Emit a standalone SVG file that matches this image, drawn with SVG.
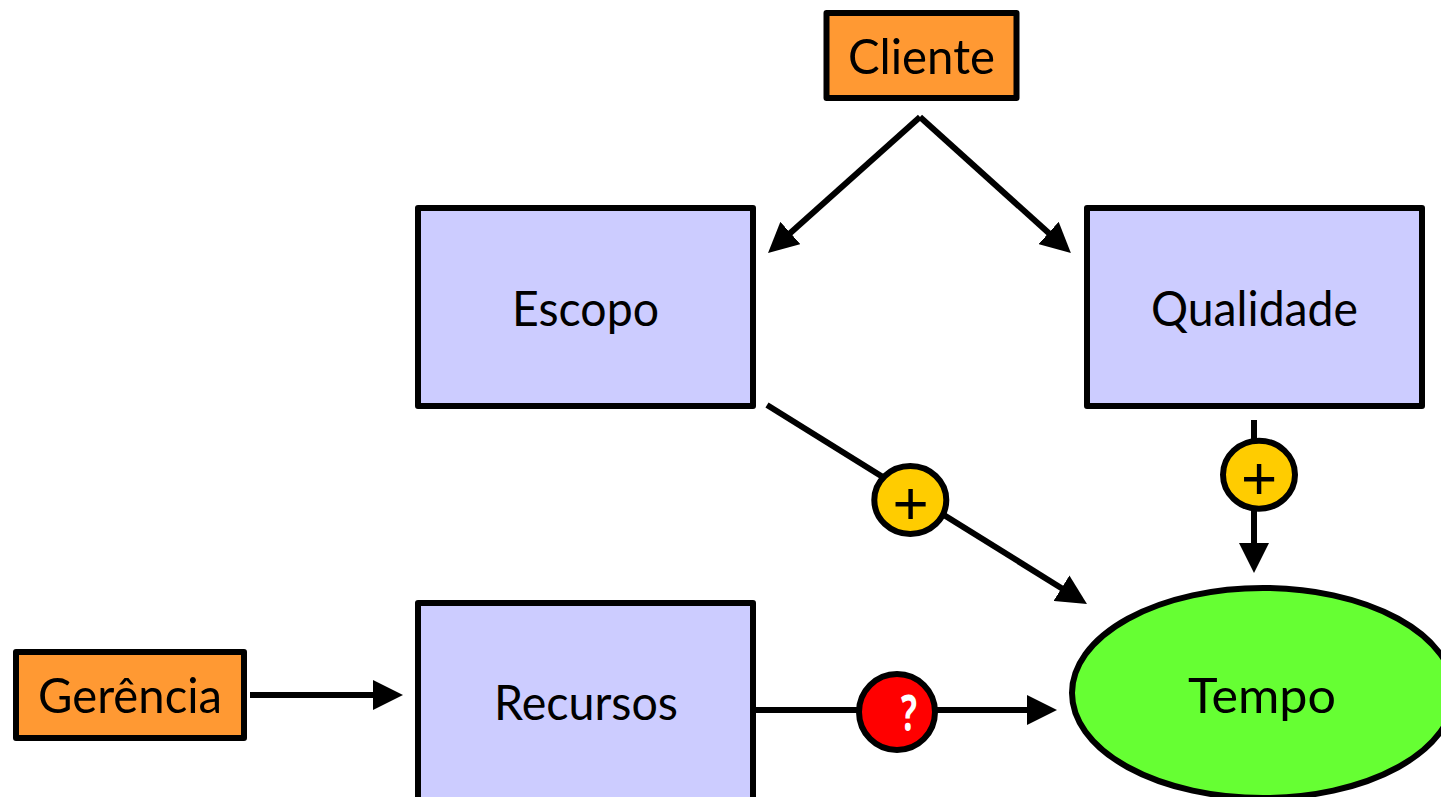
<svg xmlns="http://www.w3.org/2000/svg" width="1441" height="797" viewBox="0 0 1441 797">
<style>
.s{stroke:#000;stroke-width:6;stroke-linejoin:round}
.o{fill:#FF9933}.b{fill:#CCCCFF}.g{fill:#66FF33}.y{fill:#FFCC00}.r{fill:#FF0000}
text{font-family:"Lato","Open Sans","Liberation Sans",sans-serif;font-size:49px;fill:#000;text-anchor:start}
.c{stroke:#000;stroke-width:6;fill:none;marker-end:url(#a)}
text.m{font-family:"Liberation Sans",sans-serif;font-size:62px;text-anchor:middle}
text.q{font-family:"Open Sans","Liberation Sans",sans-serif;font-size:50px;font-weight:700;fill:#fff;text-anchor:start}
</style>
<defs>
<marker id="a" markerUnits="userSpaceOnUse" markerWidth="30" markerHeight="30" refX="2" refY="15" orient="auto"><path d="M0,0L30,15L0,30z" fill="#000"/></marker>
</defs>
<rect width="1441" height="797" fill="#fff"/>
<g id="connectors">
<path class="c" d="M920,117L788.9,234.3"/>
<path class="c" d="M920,117L1050.1,234.3"/>
<path class="c" d="M767,405L1063.2,589.2"/>
<path class="c" d="M1254,420V545"/>
<path class="c" d="M250,695H375"/>
<path class="c" d="M755,710H1029"/>
</g>
<g id="cliente"><rect class="s o" x="826.5" y="13" width="190" height="85"/><text x="848" y="74" textLength="147" lengthAdjust="spacingAndGlyphs">Cliente</text></g>
<g id="escopo"><rect class="s b" x="418" y="208" width="335" height="198"/><text x="512" y="326" textLength="147" lengthAdjust="spacingAndGlyphs">Escopo</text></g>
<g id="qualidade"><rect class="s b" x="1087" y="208" width="335" height="198"/><text x="1151" y="326" textLength="207" lengthAdjust="spacingAndGlyphs">Qualidade</text></g>
<g id="gerencia"><rect class="s o" x="16" y="652" width="228" height="86"/><text x="38" y="713" textLength="184" lengthAdjust="spacingAndGlyphs">Gerência</text></g>
<g id="recursos"><rect class="s b" x="418" y="603" width="335" height="240"/><text x="494" y="720" textLength="184" lengthAdjust="spacingAndGlyphs">Recursos</text></g>
<g id="tempo"><ellipse class="s g" cx="1263" cy="693" rx="191" ry="105"/><text x="1188" y="713" textLength="148" lengthAdjust="spacingAndGlyphs">Tempo</text></g>
<g id="mais-escopo"><ellipse class="s y" cx="910.3" cy="500" rx="36" ry="34"/><text class="m" x="910.5" y="524">+</text></g>
<g id="mais-qualidade"><ellipse class="s y" cx="1259" cy="474.7" rx="36" ry="34"/><text class="m" x="1259" y="499">+</text></g>
<g id="interrogacao"><circle class="s r" cx="897" cy="712" r="38"/><text class="q" x="901" y="731" textLength="16" lengthAdjust="spacingAndGlyphs">?</text></g>
</svg>
